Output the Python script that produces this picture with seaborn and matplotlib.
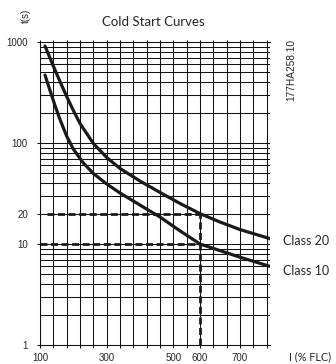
import numpy as np
import pandas as pd
import matplotlib
matplotlib.use('Agg')
import matplotlib.pyplot as plt
import seaborn as sns
from matplotlib.ticker import NullFormatter

# Curve data: current in % FLC, trip time in seconds
class20_current = [115, 140, 160, 180, 200, 220, 260, 300, 340, 400, 460, 525, 600, 650, 700, 790]
class20_time = [913, 578, 406, 289, 210, 156, 99, 72, 56, 42, 32.4, 25.2, 20, 16.5, 13.9, 11.3]
class10_current = [115, 130, 145, 160, 180, 200, 230, 260, 300, 340, 400, 460, 525, 600, 650, 700, 790]
class10_time = [471, 331, 235, 171, 117, 87, 63.4, 49.9, 39.3, 32, 24.3, 18.5, 13.5, 10, 8.6, 7.4, 6.0]

# Reading guides (dashed)
ref_current = 600
ref_times = [20, 10]
ref_start = [122, 100]

x_tick_values = [100, 300, 500, 600, 700]
y_tick_values = [1, 10, 20, 100, 1000]

# The printed x axis is not linear: anchor values -> grid position
x_anchor = [-1000, 100, 500, 600, 700, 1500]
pos_anchor = [-27.5, 0, 10, 12, 15, 35]


def fwd(x):
    return np.interp(x, x_anchor, pos_anchor)


def inv(p):
    return np.interp(p, pos_anchor, x_anchor)


df = pd.concat([
    pd.DataFrame({'current': class20_current, 'time': class20_time, 'cls': 'Class 20'}),
    pd.DataFrame({'current': class10_current, 'time': class10_time, 'cls': 'Class 10'}),
])

sns.set_style('white')
plt.rcParams['font.family'] = ['Liberation Sans', 'DejaVu Sans']
label_font = ['Lato', 'DejaVu Sans']

fig = plt.figure(figsize=(3.36, 3.64), dpi=100)
ax = fig.add_axes([40 / 336, 19 / 364, 230 / 336, 303 / 364])

ax.set_xscale('function', functions=(fwd, inv))
ax.set_yscale('log')
ax.set_xlim(100, 790)
ax.set_ylim(1, 1000)

grid_x = inv(np.arange(18))
ax.set_xticks(grid_x, minor=True)
ax.set_xticks(x_tick_values)
ax.set_xticklabels([str(v) for v in x_tick_values])
ax.set_yticks(y_tick_values)
ax.set_yticklabels([str(v) for v in y_tick_values])
ax.yaxis.set_minor_formatter(NullFormatter())

ax.grid(which='both', color='#111111', linewidth=0.75)
ax.set_axisbelow(True)
ax.spines['right'].set_visible(False)
for side in ['left', 'top', 'bottom']:
    ax.spines[side].set_linewidth(0.75)
    ax.spines[side].set_color('#111111')

ax.tick_params(axis='x', which='both', top=True, bottom=True, direction='out',
               length=1.8, width=0.75, color='#111111', labelsize=7, pad=4)
ax.tick_params(axis='y', which='major', left=True, direction='out', length=2.2,
               width=0.75, color='#111111', labelsize=7, pad=6.5)
ax.tick_params(axis='y', which='minor', length=0)

sns.lineplot(data=df, x='current', y='time', hue='cls', units='cls', estimator=None,
             palette=['#1a1a1a', '#1a1a1a'], linewidth=2.3, sort=False,
             legend=False, ax=ax)

ax.hlines(ref_times, ref_start, ref_current, colors='#1a1a1a', linewidth=2,
          linestyles=(0, (2.5, 1.3)))
ax.vlines(ref_current, 1, ref_times[0], colors='#1a1a1a', linewidth=2,
          linestyles=(0, (2.5, 1.3)))

ax.set_xlabel('')
ax.set_ylabel('')

fig.text(153 / 336, 1 - 22 / 364, 'Cold Start Curves', ha='center', va='center',
         fontsize=9.5, family=label_font)
fig.text(26 / 336, 1 - 16 / 364, 't(s)', rotation=90, ha='center', va='center', fontsize=7)
fig.text(291 / 336, 1 - 70 / 364, '177HA258.10', rotation=90, ha='center', va='center',
         fontsize=7.3)
fig.text(283 / 336, 1 - 241 / 364, 'Class 20', ha='left', va='center', fontsize=9,
         family=label_font)
fig.text(283 / 336, 1 - 271 / 364, 'Class 10', ha='left', va='center', fontsize=9,
         family=label_font)
fig.text(289 / 336, 1 - 357 / 364, 'I (% FLC)', ha='left', va='center', fontsize=7.8,
         family=label_font)

fig.savefig('out.png', dpi=100)
